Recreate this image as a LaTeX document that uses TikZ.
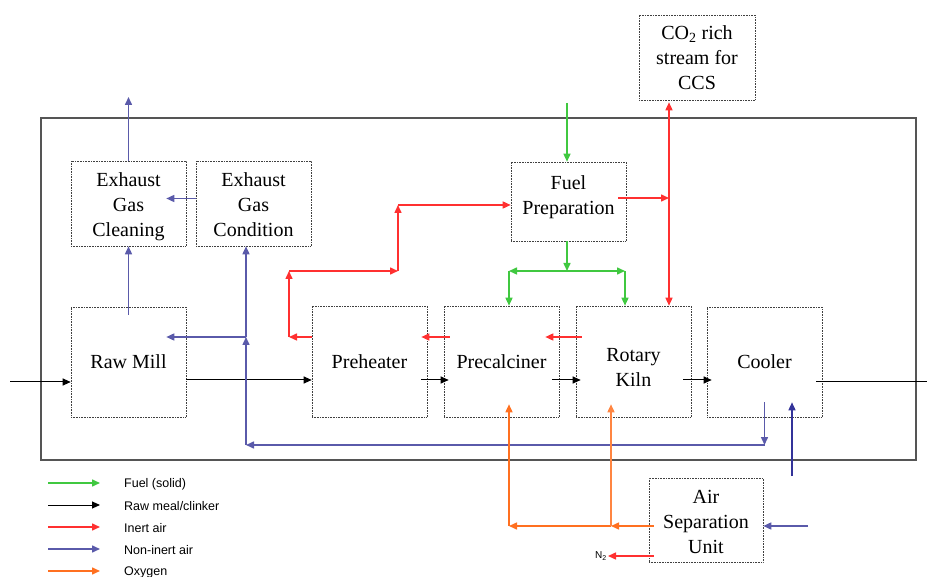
\documentclass[tikz,border=0pt]{standalone}
\usepackage{fontspec}
\setmainfont{Liberation Serif}
\newfontfamily\unitfont{Liberation Serif}
\newfontfamily\legendfont{Liberation Sans}
\usetikzlibrary{arrows.meta,calc}

\definecolor{fuelgreen}{HTML}{40C840}
\definecolor{inertred}{HTML}{FF3030}
\definecolor{airblue}{HTML}{5A5AAA}
\definecolor{airdark}{HTML}{333399}
\definecolor{oxyorange}{HTML}{FF7020}
\definecolor{framegray}{HTML}{555555}

\newcommand{\lowered}[2]{\raisebox{-#1}[\height][\depth]{\begin{tabular}{@{}c@{}}#2\end{tabular}}}

\tikzset{
  unitbox/.style={draw=black!75, densely dotted, line width=0.6pt, minimum width=115pt,
    align=center, inner sep=1pt, font=\unitfont\fontsize{20}{25}\selectfont},
  flow/.style={-{Triangle[length=8pt,width=7pt]}, line width=1.5pt},
  fuel/.style={flow, draw=fuelgreen},
  meal/.style={flow, draw=black, line width=1pt},
  inert/.style={flow, draw=inertred},
  noninert/.style={flow, draw=airblue},
  oxy/.style={flow, draw=oxyorange},
  legendtext/.style={anchor=west, inner sep=0pt, font=\legendfont\fontsize{12.5}{14}\selectfont}
}

\begin{document}
\begin{tikzpicture}[x=1pt,y=-1pt]
\useasboundingbox (0,0) rectangle (927,577);

% plant boundary
\draw[framegray, line width=1.2pt] (41,118) rectangle (916,460);

% process units
\node[unitbox, minimum height=85pt] (cleaning) at (128.5,203.5) {\lowered{3pt}{Exhaust\\Gas\\Cleaning}};
\node[unitbox, minimum height=85pt] (condition) at (253.5,203.5) {\lowered{3pt}{Exhaust\\Gas\\Condition}};
\node[unitbox, minimum height=79pt] (fuelprep) at (568.5,201.5) {\lowered{-4pt}{Fuel\\Preparation}};
\node[unitbox, minimum width=116pt, minimum height=85pt] (ccs) at (697,57.5) {CO\textsubscript{2} rich\\stream for\\CCS};
\node[unitbox, minimum height=110pt] (rawmill) at (128.5,362) {Raw Mill};
\node[unitbox, minimum height=111pt] (preheater) at (369.5,361.5) {Preheater};
\node[unitbox, minimum height=111pt] (precalciner) at (501.5,361.5) {Precalciner};
\node[unitbox, minimum height=111pt] (kiln) at (633.5,361.5) {\lowered{8pt}{Rotary\\Kiln}};
\node[unitbox, minimum height=110pt] (cooler) at (764.5,362) {Cooler};
\node[unitbox, minimum width=114pt, minimum height=84pt] (asu) at (706,520) {\lowered{3pt}{Air\\Separation\\Unit}};

% raw meal / clinker
\coordinate (mealin) at (10,382);
\coordinate (mealout) at (927,382);
\coordinate (my) at (0,380);
\draw[meal] (mealin) -- (mealin -| rawmill.west);
\draw[meal] (rawmill.east |- my) -- (preheater.west |- my);
\draw[meal] ($(preheater.east |- my)+(-6,0)$) -- ($(precalciner.west |- my)+(5,0)$);
\draw[meal] ($(precalciner.east |- my)+(-7,0)$) -- ($(kiln.west |- my)+(5,0)$);
\draw[meal] ($(kiln.east |- my)+(-8,0)$) -- ($(cooler.west |- my)+(5,0)$);
\draw[black, line width=1pt] ($(cooler.east |- mealout)+(-6,0)$) -- (mealout);

% fuel
\coordinate (fuelin) at (567,103);
\coordinate (g0) at (567,271);
\coordinate (gL) at (509,271);
\coordinate (gR) at (625,271);
\draw[fuel] (fuelin) -- (fuelin |- fuelprep.north);
\draw[fuel] (fuelin |- fuelprep.south) -- (g0);
\draw[fuel] (g0) -- (gL);
\draw[fuel] (g0) -- (gR);
\draw[fuel] (gL) -- (gL |- precalciner.north);
\draw[fuel] (gR) -- (gR |- kiln.north);

% inert air
\coordinate (ry) at (0,337);
\coordinate (r1) at (289,337);
\coordinate (r2) at (289,271);
\coordinate (r3) at (398,271);
\coordinate (r4) at (398,205);
\coordinate (r5) at (669,198);
\draw[inert] ($(kiln.west |- ry)+(6,0)$) -- ($(precalciner.east |- ry)+(-14,0)$);
\draw[inert] ($(precalciner.west |- ry)+(6,0)$) -- ($(preheater.east |- ry)+(-6,0)$);
\draw[inert] (preheater.west |- r1) -- (r1);
\draw[inert] (r1) -- (r2);
\draw[inert] (r2) -- (r3);
\draw[inert] (r3) -- (r4);
\draw[inert] (r4) -- (r4 -| fuelprep.west);
\draw[inert] ($(fuelprep.east |- r5)+(-8,0)$) -- (r5);
\draw[inert, {Triangle[length=8pt,width=7pt]}-{Triangle[length=8pt,width=7pt]}]
  ($(r5 |- ccs.south)+(0,2)$) -- (r5 |- kiln.north);

% non-inert air
\coordinate (stack) at (128.5,97);
\coordinate (retR) at (764.5,445);
\coordinate (retL) at (246,445);
\coordinate (retT) at (246,337);
\coordinate (coolin) at (792,476);
\coordinate (asuair) at (808,526);
\draw[noninert] (cleaning.north) -- (stack);
\draw[noninert] ($(rawmill.north)+(0,8)$) -- (cleaning.south);
\draw[noninert] ($(condition.west)+(0,-5)$) -- ($(cleaning.east)+(-20,-5)$);
\draw[noninert] ($(cooler.south)+(0,-15)$) -- (retR);
\draw[noninert] (retR) -- (retL);
\draw[noninert] (retL) -- (retT);
\draw[noninert] (retT) -- (retL |- condition.south);
\draw[noninert] (retT) -- ($(rawmill.east |- retT)+(-20,0)$);
\draw[noninert, draw=airdark] (coolin) -- ($(coolin |- cooler.south)+(0,-15)$);
\draw[noninert] (asuair) -- (asuair -| asu.east);

% oxygen
\coordinate (o1) at (611,526);
\coordinate (o2) at (509,526);
\draw[oxy] ($(asu.west |- o1)+(5,0)$) -- (o1);
\draw[oxy] (o1) -- (o2);
\draw[oxy] (o2) -- ($(o2 |- precalciner.south)+(0,-13)$);
\draw[oxy, draw=oxyorange!85!white] (o1) -- ($(o1 |- kiln.south)+(0,-13)$);

% nitrogen
\node[inner sep=1pt, font=\legendfont\fontsize{10}{12}\selectfont] (n2) at (601,556) {N\textsubscript{2}};
\draw[inert] ($(asu.west |- n2)+(5,0)$) -- (n2.east);

% legend
\foreach \sty/\txt [count=\i] in {fuel/{Fuel (solid)}, meal/{Raw meal/clinker},
    inert/{Inert air}, noninert/{Non-inert air}, oxy/{Oxygen}} {
  \coordinate (leg\i a) at (48,461+22*\i);
  \coordinate (leg\i b) at (100,461+22*\i);
  \draw[\sty] (leg\i a) -- (leg\i b);
  \node[legendtext] (legtxt\i) at (124,462+22*\i) {\txt};
}
\end{tikzpicture}
\end{document}
